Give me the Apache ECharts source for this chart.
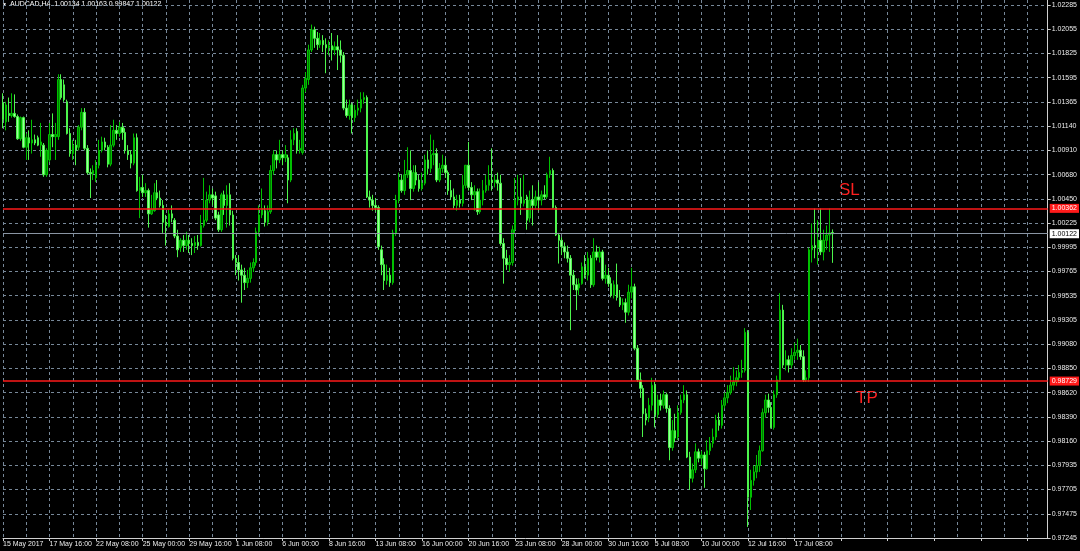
<!DOCTYPE html>
<html>
<head>
<meta charset="utf-8">
<script src="https://cdn.jsdelivr.net/npm/echarts@6/dist/echarts.min.js"></script>
<style>
html,body{margin:0;padding:0;background:#000;}
#c{width:1080px;height:551px;}
</style>
</head>
<body>
<div id="c"></div>
<script>
// ---- data (AUDCAD H4, 15 May 2017 00:00 onwards) ----
const xLabels = ['15 May 2017','17 May 16:00','22 May 08:00','25 May 00:00','29 May 16:00','1 Jun 08:00','6 Jun 00:00','8 Jun 16:00','13 Jun 08:00','16 Jun 00:00','20 Jun 16:00','23 Jun 08:00','28 Jun 00:00','30 Jun 16:00','5 Jul 08:00','10 Jul 00:00','12 Jul 16:00','17 Jul 08:00'];
const yLabels = ['1.02285','1.02055','1.01825','1.01595','1.01365','1.01140','1.00910','1.00680','1.00450','1.00225','0.99995','0.99765','0.99535','0.99305','0.99080','0.98850','0.98620','0.98390','0.98160','0.97935','0.97705','0.97475','0.97245'];

const open = [
1.0136,1.0118,1.0126,1.0124,1.0126,1.0123,1.0102,1.0122,1.0094,1.0103,
1.0098,1.0101,1.0103,1.0096,1.0096,1.0068,1.0082,1.0106,1.0104,1.0104,
1.0158,1.0153,1.0137,1.0107,1.0088,1.0096,1.0094,1.0113,1.0127,1.0093,
1.0070,1.0069,1.0065,1.0077,1.0091,1.0099,1.0094,1.0078,1.0096,1.0110,
1.0107,1.0113,1.0108,1.0091,1.0087,1.0079,1.0103,1.0053,1.0056,1.0051,
1.0053,1.0031,1.0034,1.0051,1.0046,1.0039,1.0023,1.0019,1.0031,1.0025,
1.0010,0.9999,1.0006,1.0001,1.0006,1.0003,1.0001,1.0004,1.0001,1.0020,
1.0025,1.0044,1.0049,1.0048,1.0030,1.0016,1.0049,1.0039,1.0049,1.0030,
0.9989,0.9985,0.9978,0.9973,0.9966,0.9970,0.9980,0.9985,1.0014,1.0030,
1.0034,1.0023,1.0033,1.0072,1.0087,1.0082,1.0087,1.0084,1.0084,1.0063,
1.0101,1.0109,1.0091,1.0089,1.0150,1.0158,1.0186,1.0205,1.0197,1.0191,
1.0195,1.0191,1.0188,1.0190,1.0186,1.0189,1.0186,1.0181,1.0131,1.0124,
1.0134,1.0122,1.0129,1.0131,1.0139,1.0141,1.0047,1.0044,1.0039,1.0037,
0.9997,0.9983,0.9968,0.9973,0.9966,1.0013,1.0044,1.0063,1.0053,1.0068,
1.0072,1.0055,1.0070,1.0063,1.0055,1.0060,1.0082,1.0074,1.0087,1.0088,
1.0063,1.0074,1.0077,1.0070,1.0053,1.0047,1.0039,1.0044,1.0041,1.0058,
1.0077,1.0056,1.0049,1.0052,1.0033,1.0044,1.0053,1.0058,1.0063,1.0061,
1.0063,1.0060,1.0003,0.9989,0.9983,0.9985,1.0016,1.0044,1.0047,1.0041,
1.0047,1.0027,1.0044,1.0039,1.0047,1.0044,1.0049,1.0047,1.0068,1.0072,
1.0037,1.0011,1.0006,1.0000,0.9995,0.9989,0.9973,0.9964,0.9961,0.9965,
0.9981,0.9973,0.9989,0.9964,0.9995,0.9990,0.9995,0.9970,0.9973,0.9965,
0.9954,0.9964,0.9952,0.9945,0.9947,0.9938,0.9957,0.9962,0.9904,0.9874,
0.9866,0.9842,0.9838,0.9850,0.9869,0.9841,0.9855,0.9850,0.9860,0.9847,
0.9810,0.9826,0.9820,0.9843,0.9855,0.9860,0.9801,0.9781,0.9789,0.9806,
0.9800,0.9803,0.9790,0.9807,0.9814,0.9820,0.9836,0.9831,0.9850,0.9857,
0.9862,0.9869,0.9872,0.9876,0.9881,0.9883,0.9919,0.9763,0.9779,0.9787,
0.9793,0.9807,0.9843,0.9855,0.9848,0.9829,0.9860,0.9874,0.9940,0.9888,
0.9893,0.9888,0.9897,0.9900,0.9902,0.9896,0.9874,0.9876,0.9997,1.0001,
0.9999,1.0006,0.9995,1.0006,1.0011,1.00134];

const high = [
1.0145,1.0137,1.0141,1.0145,1.0144,1.0125,1.0123,1.0123,1.0107,1.0110,
1.0120,1.0106,1.0105,1.0117,1.0098,1.0093,1.0117,1.0126,1.0117,1.0163,
1.0163,1.0158,1.0139,1.0112,1.0101,1.0101,1.0115,1.0131,1.0131,1.0096,
1.0074,1.0077,1.0082,1.0101,1.0104,1.0103,1.0096,1.0115,1.0120,1.0115,
1.0118,1.0117,1.0112,1.0096,1.0091,1.0107,1.0107,1.0066,1.0068,1.0060,
1.0055,1.0049,1.0060,1.0063,1.0053,1.0044,1.0030,1.0035,1.0039,1.0027,
1.0016,1.0008,1.0011,1.0014,1.0011,1.0008,1.0010,1.0011,1.0030,1.0065,
1.0052,1.0058,1.0055,1.0052,1.0033,1.0051,1.0053,1.0058,1.0060,1.0034,
0.9992,0.9992,0.9983,0.9980,0.9978,0.9985,0.9989,1.0018,1.0039,1.0055,
1.0039,1.0039,1.0077,1.0091,1.0091,1.0101,1.0091,1.0096,1.0087,1.0110,
1.0112,1.0112,1.0101,1.0153,1.0165,1.0191,1.0210,1.0208,1.0203,1.0202,
1.0200,1.0197,1.0195,1.0202,1.0194,1.0200,1.0195,1.0184,1.0139,1.0139,
1.0136,1.0134,1.0139,1.0146,1.0146,1.0143,1.0053,1.0049,1.0046,1.0039,
1.0001,0.9989,0.9983,0.9980,1.0016,1.0049,1.0070,1.0068,1.0082,1.0094,
1.0091,1.0077,1.0077,1.0068,1.0070,1.0087,1.0091,1.0106,1.0101,1.0093,
1.0079,1.0087,1.0084,1.0072,1.0063,1.0055,1.0049,1.0049,1.0068,1.0077,
1.0099,1.0061,1.0058,1.0055,1.0055,1.0063,1.0068,1.0077,1.0093,1.0068,
1.0070,1.0068,1.0008,0.9997,0.9992,1.0020,1.0065,1.0068,1.0065,1.0068,
1.0049,1.0053,1.0058,1.0053,1.0061,1.0053,1.0058,1.0070,1.0085,1.0074,
1.0039,1.0013,1.0009,1.0004,1.0001,0.9992,0.9978,0.9970,0.9970,0.9985,
0.9992,0.9995,0.9992,1.0008,1.0001,1.0000,0.9997,0.9983,0.9980,0.9971,
0.9968,0.9984,0.9959,0.9951,0.9951,0.9964,0.9980,0.9965,0.9907,0.9881,
0.9869,0.9847,0.9857,0.9876,0.9872,0.9860,0.9861,0.9864,0.9862,0.9850,
0.9836,0.9842,0.9850,0.9860,0.9869,0.9864,0.9806,0.9795,0.9814,0.9809,
0.9807,0.9806,0.9817,0.9820,0.9828,0.9841,0.9843,0.9855,0.9862,0.9869,
0.9878,0.9886,0.9883,0.9888,0.9893,0.9923,0.9921,0.9789,0.9793,0.9803,
0.9812,0.9847,0.9860,0.9861,0.9853,0.9864,0.9878,0.9956,0.9945,0.9902,
0.9897,0.9904,0.9909,0.9913,0.9907,0.9902,0.9883,0.9999,1.0022,1.0036,
1.0025,1.0036,1.0016,1.0020,1.0036,1.00163];

const low = [
1.0112,1.0110,1.0118,1.0122,1.0122,1.0101,1.0100,1.0093,1.0082,1.0082,
1.0088,1.0096,1.0095,1.0085,1.0066,1.0066,1.0080,1.0094,1.0082,1.0101,
1.0139,1.0137,1.0106,1.0085,1.0082,1.0077,1.0091,1.0110,1.0091,1.0068,
1.0046,1.0063,1.0061,1.0074,1.0089,1.0091,1.0075,1.0076,1.0094,1.0101,
1.0104,1.0101,1.0088,1.0082,1.0074,1.0077,1.0052,1.0027,1.0047,1.0047,
1.0018,1.0030,1.0033,1.0044,1.0037,1.0013,1.0001,1.0018,1.0023,1.0008,
0.9990,0.9995,0.9995,0.9997,0.9994,0.9992,0.9994,0.9997,1.0000,1.0018,
1.0023,1.0041,1.0039,1.0025,1.0014,1.0014,1.0030,1.0018,1.0020,0.9987,
0.9973,0.9968,0.9947,0.9959,0.9961,0.9966,0.9976,0.9982,1.0010,1.0027,
1.0019,1.0020,1.0031,1.0068,1.0074,1.0079,1.0077,1.0080,1.0041,1.0061,
1.0096,1.0088,1.0088,1.0087,1.0146,1.0153,1.0184,1.0188,1.0186,1.0188,
1.0184,1.0164,1.0181,1.0176,1.0181,1.0167,1.0174,1.0129,1.0122,1.0120,
1.0107,1.0118,1.0124,1.0127,1.0135,1.0046,1.0037,1.0034,1.0033,0.9997,
0.9973,0.9959,0.9964,0.9962,0.9964,1.0010,1.0041,1.0051,1.0049,1.0065,
1.0044,1.0052,1.0058,1.0052,1.0053,1.0058,1.0068,1.0070,1.0077,1.0061,
1.0061,1.0070,1.0065,1.0049,1.0044,1.0036,1.0034,1.0037,1.0038,1.0055,
1.0053,1.0044,1.0034,1.0030,1.0031,1.0039,1.0051,1.0053,1.0053,1.0056,
1.0053,1.0001,0.9965,0.9978,0.9976,0.9982,1.0013,1.0039,1.0030,1.0038,
1.0016,1.0023,1.0020,1.0036,1.0034,1.0039,1.0045,1.0045,1.0065,1.0036,
1.0010,0.9984,0.9992,0.9989,0.9985,0.9921,0.9959,0.9940,0.9954,0.9964,
0.9970,0.9968,0.9961,0.9962,0.9987,0.9985,0.9968,0.9965,0.9962,0.9952,
0.9951,0.9949,0.9943,0.9940,0.9928,0.9935,0.9951,0.9902,0.9872,0.9857,
0.9820,0.9831,0.9834,0.9845,0.9829,0.9838,0.9845,0.9847,0.9843,0.9798,
0.9807,0.9815,0.9817,0.9841,0.9852,0.9800,0.9770,0.9777,0.9786,0.9796,
0.9793,0.9772,0.9789,0.9803,0.9810,0.9817,0.9826,0.9828,0.9847,0.9852,
0.9860,0.9864,0.9868,0.9872,0.9876,0.9881,0.9735,0.9751,0.9774,0.9781,
0.9787,0.9806,0.9838,0.9843,0.9828,0.9827,0.9857,0.9872,0.9885,0.9883,
0.9881,0.9885,0.9893,0.9893,0.9893,0.9872,0.9872,0.9872,0.9985,0.9989,
0.9983,0.9992,0.9987,0.9997,0.9995,0.99847];

const close = [
1.0120,1.0134,1.0124,1.0126,1.0123,1.0102,1.0122,1.0094,1.0103,1.0098,
1.0101,1.0098,1.0096,1.0099,1.0068,1.0091,1.0106,1.0104,1.0106,1.0158,
1.0141,1.0139,1.0107,1.0088,1.0096,1.0091,1.0113,1.0127,1.0093,1.0070,
1.0069,1.0072,1.0077,1.0091,1.0099,1.0094,1.0078,1.0096,1.0110,1.0107,
1.0113,1.0108,1.0091,1.0087,1.0079,1.0103,1.0053,1.0056,1.0051,1.0053,
1.0031,1.0035,1.0051,1.0046,1.0039,1.0023,1.0020,1.0031,1.0027,1.0010,
0.9997,1.0006,1.0001,1.0006,1.0003,1.0001,1.0004,1.0001,1.0020,1.0025,
1.0044,1.0049,1.0046,1.0027,1.0016,1.0049,1.0039,1.0049,1.0030,0.9989,
0.9985,0.9978,0.9973,0.9966,0.9970,0.9980,0.9985,1.0014,1.0030,1.0036,
1.0023,1.0033,1.0072,1.0087,1.0082,1.0087,1.0084,1.0087,1.0063,1.0101,
1.0107,1.0091,1.0093,1.0150,1.0159,1.0186,1.0205,1.0197,1.0191,1.0195,
1.0191,1.0188,1.0190,1.0186,1.0189,1.0186,1.0181,1.0131,1.0124,1.0134,
1.0122,1.0129,1.0131,1.0139,1.0141,1.0047,1.0044,1.0039,1.0037,1.0000,
0.9983,0.9968,0.9973,0.9966,1.0013,1.0044,1.0063,1.0053,1.0068,1.0072,
1.0055,1.0070,1.0063,1.0055,1.0060,1.0082,1.0074,1.0087,1.0088,1.0063,
1.0074,1.0077,1.0070,1.0053,1.0047,1.0039,1.0044,1.0041,1.0058,1.0077,
1.0056,1.0049,1.0052,1.0033,1.0044,1.0053,1.0058,1.0063,1.0061,1.0063,
1.0060,1.0003,0.9989,0.9983,0.9985,1.0016,1.0044,1.0047,1.0041,1.0044,
1.0025,1.0044,1.0039,1.0047,1.0044,1.0049,1.0047,1.0068,1.0072,1.0037,
1.0011,1.0006,1.0000,0.9995,0.9989,0.9973,0.9964,0.9959,0.9965,0.9981,
0.9973,0.9989,0.9964,0.9995,0.9990,0.9995,0.9970,0.9973,0.9965,0.9954,
0.9964,0.9952,0.9945,0.9947,0.9938,0.9957,0.9962,0.9904,0.9874,0.9866,
0.9842,0.9836,0.9850,0.9869,0.9841,0.9855,0.9850,0.9860,0.9847,0.9810,
0.9826,0.9819,0.9843,0.9855,0.9860,0.9801,0.9781,0.9789,0.9806,0.9800,
0.9803,0.9790,0.9807,0.9814,0.9820,0.9836,0.9831,0.9850,0.9857,0.9862,
0.9869,0.9872,0.9876,0.9881,0.9883,0.9919,0.9763,0.9779,0.9787,0.9793,
0.9807,0.9843,0.9855,0.9848,0.9829,0.9860,0.9874,0.9940,0.9888,0.9893,
0.9888,0.9897,0.9900,0.9902,0.9896,0.9874,0.9876,0.9997,1.0001,0.9999,
1.0006,0.9995,1.0006,1.0011,1.0013,1.00122];

const stopLoss = 1.00362;
const takeProfit = 0.98729;
const lastPrice = 1.00122;
const title = 'AUDCAD,H4  1.00134 1.00163 0.99847 1.00122';

// ---- chart ----
const SLOTS = 360;            // visible bar slots incl. chart shift
const LABEL_EVERY = 16;
const Y_MIN = 0.97245, Y_MAX = 1.023323, Y_STEP = 0.0022909;

const cats = Array.from({length: SLOTS}, (_, i) => String(i));
const candles = open.map((o, i) => [o, close[i], low[i], high[i]]);

const FONT = 'Liberation Sans, Arial, sans-serif';
const chart = echarts.init(document.getElementById('c'), null, {renderer: 'canvas'});

const tag = (bg, fg) => ({show: true, position: 'end', distance: 2,
  backgroundColor: bg, color: fg, fontSize: 7, fontFamily: FONT, padding: [1, 2, 1, 2]});

chart.setOption({
  animation: false,
  backgroundColor: '#000000',
  grid: {left: 0, right: 30, top: 0, bottom: 13, containLabel: false},
  xAxis: {
    type: 'category',
    data: cats,
    boundaryGap: false,
    axisLine: {show: true, lineStyle: {color: '#d0d0d0', width: 1}},
    axisTick: {show: true, interval: LABEL_EVERY - 1, length: 3, lineStyle: {color: '#d0d0d0'}},
    axisLabel: {
      interval: LABEL_EVERY - 1, align: 'left', margin: 3,
      color: '#ececec', fontSize: 7, fontFamily: FONT,
      formatter: (v, idx) => (idx % LABEL_EVERY === 0 && xLabels[idx / LABEL_EVERY]) ? xLabels[idx / LABEL_EVERY] : ''
    },
    splitLine: {show: true, interval: 7, lineStyle: {color: '#778899', type: [3, 3], width: 1}}
  },
  yAxis: {
    type: 'value',
    position: 'right',
    min: Y_MIN, max: Y_MAX, interval: Y_STEP,
    axisLine: {show: true, lineStyle: {color: '#d0d0d0', width: 1}},
    axisTick: {show: true, length: 3, lineStyle: {color: '#d0d0d0'}},
    axisLabel: {
      color: '#ececec', fontSize: 7, fontFamily: FONT, margin: 4,
      showMaxLabel: false,
      formatter: (v) => {
        const k = Math.round((v - Y_MIN) / Y_STEP);
        const lbl = yLabels[yLabels.length - 1 - k];
        return (lbl && Math.abs(Y_MIN + k * Y_STEP - v) < Y_STEP * 0.2) ? lbl : '';
      }
    },
    splitLine: {show: true, showMaxLine: false, showMinLine: false,
      lineStyle: {color: '#778899', type: [3, 3], width: 1}}
  },
  series: [{
    type: 'candlestick',
    data: candles,
    barWidth: 2,
    itemStyle: {
      color: '#007a00', borderColor: '#00c000',
      color0: '#9cff9c', borderColor0: '#4cf54c',
      borderWidth: 1
    },
    markLine: {
      silent: true, symbol: 'none', animation: false, precision: 5,
      data: [
        {yAxis: lastPrice, lineStyle: {color: '#8a95a3', width: 1, type: 'solid'},
         label: Object.assign(tag('#ffffff', '#000000'), {formatter: lastPrice.toFixed(5)})},
        {yAxis: stopLoss, lineStyle: {color: '#ff1a1a', width: 1.5, type: 'solid'},
         label: Object.assign(tag('#ff1a1a', '#ffffff'), {formatter: stopLoss.toFixed(5)})},
        {yAxis: takeProfit, lineStyle: {color: '#ff1a1a', width: 1.5, type: 'solid'},
         label: Object.assign(tag('#ff1a1a', '#ffffff'), {formatter: takeProfit.toFixed(5)})}
      ]
    }
  }],
  graphic: [
    {type: 'text', left: 2, top: 2, style: {text: '\u25BC', fill: '#ffffff', font: '5px ' + FONT}},
    {type: 'text', left: 10, top: 1, style: {text: title, fill: '#ffffff', font: '7px ' + FONT}},
    {type: 'text', left: 839, top: 182, style: {text: 'SL', fill: '#ff2020', font: '17px ' + FONT}},
    {type: 'text', left: 856, top: 390, style: {text: 'TP', fill: '#ff2020', font: '17px ' + FONT}}
  ]
});
</script>
</body>
</html>
